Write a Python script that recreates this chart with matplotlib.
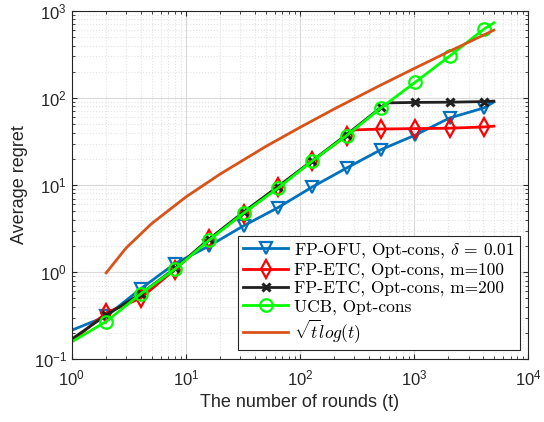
import matplotlib
matplotlib.use('Agg')
import matplotlib.pyplot as plt

plt.rcParams['mathtext.fontset'] = 'cm'
plt.rcParams['font.family'] = ['Liberation Sans', 'DejaVu Sans']

# values (log-log)
t_marks = [1, 2, 4, 8, 16, 32, 64, 128, 256, 512, 1024, 2048, 4096, 5000]

ofu = [0.215, 0.31, 0.64, 1.25, 2.0, 3.4, 5.5, 9.5, 15.7, 25.5, 37.5, 59, 77, 90]
etc100_t = [1, 2, 4, 8, 16, 32, 64, 128, 256, 300, 512, 1024, 2048, 4096, 5000]
etc100 = [0.16, 0.34, 0.5, 1.07, 2.4, 4.7, 9.5, 19, 37, 43, 44, 44.5, 45, 46.5, 47.5]
etc200_t = [1, 2, 4, 8, 16, 32, 64, 128, 256, 512, 600, 1024, 2048, 4096, 5000]
etc200 = [0.17, 0.32, 0.56, 1.1, 2.4, 4.9, 9.6, 19, 38, 78, 88, 89, 89.5, 91, 92]
ucb = [0.158, 0.27, 0.56, 1.08, 2.33, 4.75, 9.2, 18.9, 37, 77, 152, 303, 620, 730]

bound_t = [2, 3, 5, 10, 20, 50, 100, 200, 500, 1000, 2000, 5000]
bound = [0.98, 1.9, 3.6, 7.3, 13.4, 27.7, 46, 75, 139, 218, 340, 602]

labels = [r'FP-OFU, Opt-cons, $\delta$ = 0.01',
          'FP-ETC, Opt-cons, m=100',
          'FP-ETC, Opt-cons, m=200',
          'UCB, Opt-cons',
          r'$\sqrt{t}log(t)$']

fig = plt.figure(figsize=(5.44, 4.22), dpi=100)
ax = fig.add_axes([0.132, 0.149, 0.839, 0.825])

mk = dict(markersize=9, markerfacecolor='none', markeredgewidth=1.6, linewidth=2.0)
ax.plot(t_marks, ofu, color='#0072BD', marker='v', markevery=list(range(1, 13)), label=labels[0], **mk)
ax.plot(etc100_t, etc100, color='#FF0000', marker='d', markevery=[1, 2, 3, 4, 5, 6, 7, 8, 10, 11, 12, 13], label=labels[1], **mk)
ax.plot(etc200_t, etc200, color='#202020', marker='x', markevery=[1, 2, 3, 4, 5, 6, 7, 8, 9, 11, 12, 13],
        label=labels[2], markersize=6, markeredgewidth=2.2, linewidth=2.0)
ax.plot(t_marks, ucb, color='#00FF00', marker='o', markevery=list(range(1, 13)), label=labels[3], **mk)
ax.plot(bound_t, bound, color='#D95319', linewidth=2.0, label=labels[4])

ax.set_xscale('log')
ax.set_yscale('log')
ax.set_xlim(1, 1e4)
ax.set_ylim(0.1, 1e3)

ax.grid(True, which='major', color='#d9d9d9', linewidth=0.8)
ax.grid(True, which='minor', color='#e3e3e3', linestyle=':', linewidth=0.8)
ax.set_axisbelow(True)
ax.tick_params(which='both', direction='in', top=True, right=True, labelsize=12, colors='#262626')
ax.tick_params(axis='x', pad=7)
for s in ax.spines.values():
    s.set_color('#262626')
    s.set_linewidth(0.8)

ax.set_xlabel('The number of rounds (t)', fontsize=13, color='#262626', labelpad=4)
ax.set_ylabel('Average regret', fontsize=13, color='#262626')

leg = ax.legend(loc='lower right', prop={'family': 'cmr10', 'size': 12.5}, handlelength=2.6,
                fancybox=False, edgecolor='#262626', framealpha=1, borderaxespad=0.5,
                labelspacing=0.15, handletextpad=0.3, borderpad=0.3)
leg.get_frame().set_linewidth(0.8)

fig.savefig('out.png', dpi=100)
